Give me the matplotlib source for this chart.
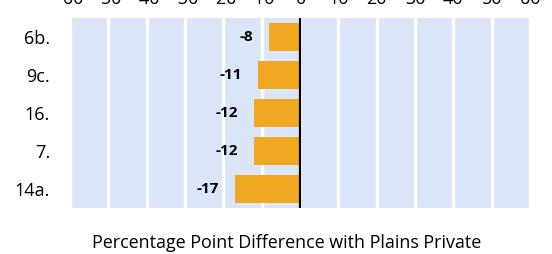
import matplotlib.pyplot as plt

# items and difference from Plains Private (percentage points)
items = ["6b.", "9c.", "16.", "7.", "14a."]
diffs = [-8, -11, -12, -12, -17]
xticks = [-60, -50, -40, -30, -20, -10, 0, 10, 20, 30, 40, 50, 60]

plt.rcParams['font.family'] = ['Open Sans', 'DejaVu Sans']

fig = plt.figure(figsize=(5.52, 2.54), dpi=100)
ax = fig.add_axes([70 / 552, 46 / 254, 460 / 552, 190 / 254])
ax.set_facecolor('#DAE5F7')

ypos = list(range(len(items)))
ax.barh(ypos, diffs, height=0.74, color='#F0A823', zorder=3)
ax.axvline(0, color='black', lw=1.6, zorder=4)

for y, v in zip(ypos, diffs):
    ax.annotate(str(v), (v, y), xytext=(-11.5, 0), textcoords='offset points',
                ha='right', va='center', fontsize=11, fontweight='bold')

ax.set_xlim(-60, 60)
ax.set_ylim(len(items) - 0.5, -0.5)
ax.set_yticks(ypos)
ax.set_yticklabels(items, fontsize=13)
ax.set_xticks(xticks)
ax.set_xticklabels([str(t) for t in xticks], fontsize=13)
ax.xaxis.tick_top()
ax.tick_params(axis='x', length=0, pad=7)
ax.tick_params(axis='y', length=0, pad=14.4)
ax.grid(axis='x', color='white', lw=2.4, zorder=1)
ax.grid(axis='y', visible=False)
for s in ax.spines.values():
    s.set_visible(False)

fig.text(287 / 552, 1 - 243 / 254, "Percentage Point Difference with Plains Private",
         ha='center', va='center', fontsize=12.9)

fig.savefig('out.png', dpi=100)
